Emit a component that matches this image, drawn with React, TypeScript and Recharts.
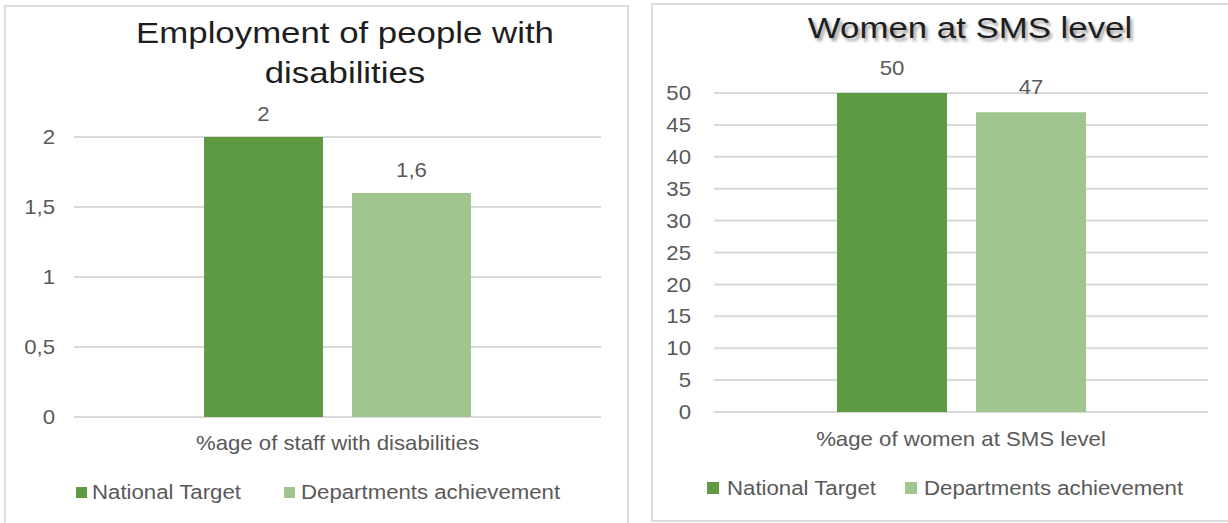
import React from 'react';
import { BarChart, Bar, XAxis, YAxis, CartesianGrid, LabelList, Legend } from 'recharts';

const seriesNames = ['National Target', 'Departments achievement'];
const seriesColors = ['#5E9A42', '#A0C58F'];

const titleLeft = ['Employment of people with', 'disabilities'];
const categoriesLeft = ['%age of staff with disabilities'];
const nationalTargetLeft = [2];
const departmentsLeft = [1.6];
const yTicksLeft = [0, 0.5, 1, 1.5, 2];

const titleRight = ['Women at SMS level'];
const categoriesRight = ['%age of women at SMS level'];
const nationalTargetRight = [50];
const departmentsRight = [47];
const yTicksRight = [0, 5, 10, 15, 20, 25, 30, 35, 40, 45, 50];

const FONT = '"Liberation Sans", Arial, Helvetica, sans-serif';
const SX = 1.11;
const TEXT_GREY = '#595959';

const fmt = (v: any) => String(v).replace('.', ',');

const build = (cats: string[], nat: number[], dep: number[]) =>
  cats.map((c, i) => ({ category: c, national: nat[i], dept: dep[i] }));

const YTick = (props: any) => {
  const { x, y, payload } = props;
  return (
    <text
      transform={`translate(${x},${y}) scale(${SX},1)`}
      textAnchor="end"
      dy="0.355em"
      fill={TEXT_GREY}
      fontSize={20}
      fontFamily={FONT}
    >
      {fmt(payload.value)}
    </text>
  );
};

const XTick = (props: any) => {
  const { x, y, payload } = props;
  return (
    <text
      transform={`translate(${x},${y}) scale(${SX},1)`}
      textAnchor="middle"
      dy="0.71em"
      fill={TEXT_GREY}
      fontSize={20}
      fontFamily={FONT}
    >
      {payload.value}
    </text>
  );
};

const makeValueLabel = (gap: number) => (p: any) => {
  const { x, y, width, value } = p;
  return (
    <text
      transform={`translate(${Number(x) + Number(width) / 2},${Number(y) - gap}) scale(${SX},1)`}
      textAnchor="middle"
      fill={TEXT_GREY}
      fontSize={20}
      fontFamily={FONT}
    >
      {fmt(value)}
    </text>
  );
};

type LegendLayout = { squareX: number[]; textX: number[]; cy: number; sq: number };

const makeLegend = (lay: LegendLayout) => (props: any) => {
  const payload = [...(props.payload || [])].sort(
    (a: any, b: any) => seriesNames.indexOf(a.value) - seriesNames.indexOf(b.value)
  );
  return (
    <div style={{ position: 'relative', width: '100%', height: '100%' }}>
      {payload.map((entry: any, i: number) => (
        <React.Fragment key={i}>
          <div
            style={{
              position: 'absolute',
              left: lay.squareX[i],
              top: lay.cy - lay.sq / 2,
              width: lay.sq,
              height: lay.sq,
              background: entry.color,
            }}
          />
          <div
            style={{
              position: 'absolute',
              left: lay.textX[i],
              top: lay.cy - 10,
              lineHeight: '20px',
              fontSize: 20,
              fontFamily: FONT,
              color: TEXT_GREY,
              whiteSpace: 'nowrap',
              transform: `scaleX(${SX})`,
              transformOrigin: 'left center',
            }}
          >
            {entry.value}
          </div>
        </React.Fragment>
      ))}
    </div>
  );
};

type PanelProps = {
  left: number;
  width: number;
  height: number;
  data: any[];
  ticks: number[];
  domainMax: number;
  margin: { top: number; right: number; bottom: number; left: number };
  barSize: number;
  yTickMargin: number;
  xTickMargin: number;
  labelGap: number;
  legend: LegendLayout;
};

const Panel = (p: PanelProps) => (
  <div style={{ position: 'absolute', left: p.left, top: 0, width: p.width, height: p.height }}>
    <BarChart width={p.width} height={p.height} data={p.data} margin={p.margin} barGap={29}>
      <CartesianGrid vertical={false} stroke="#D9D9D9" strokeWidth={2} />
      <XAxis
        dataKey="category"
        axisLine={false}
        tickLine={false}
        tickSize={0}
        tickMargin={p.xTickMargin}
        height={40}
        interval={0}
        tick={<XTick />}
      />
      <YAxis
        domain={[0, p.domainMax]}
        ticks={p.ticks}
        interval={0}
        axisLine={false}
        tickLine={false}
        tickSize={0}
        tickMargin={p.yTickMargin}
        width={60}
        tick={<YTick />}
      />
      <Legend
        layout="horizontal"
        verticalAlign="middle"
        align="center"
        wrapperStyle={{ left: 0, top: 0, width: p.width, height: p.height, pointerEvents: 'none' }}
        content={makeLegend(p.legend)}
      />
      <Bar dataKey="national" name={seriesNames[0]} fill={seriesColors[0]} barSize={p.barSize} isAnimationActive={false}>
        <LabelList dataKey="national" content={makeValueLabel(p.labelGap)} />
      </Bar>
      <Bar dataKey="dept" name={seriesNames[1]} fill={seriesColors[1]} barSize={p.barSize} isAnimationActive={false}>
        <LabelList dataKey="dept" content={makeValueLabel(p.labelGap)} />
      </Bar>
    </BarChart>
  </div>
);

const titleStyle = (cx: number, top: number, shadow: boolean): React.CSSProperties => ({
  position: 'absolute',
  left: cx - 300,
  top,
  width: 600,
  textAlign: 'center',
  fontFamily: FONT,
  fontSize: 29,
  lineHeight: '40px',
  color: '#1E1E1E',
  transform: 'scaleX(1.2)',
  transformOrigin: 'center',
  whiteSpace: 'nowrap',
  textShadow: shadow ? '2px 3px 3px rgba(0,0,0,0.4)' : 'none',
});

export default function App() {
  const dataLeft = build(categoriesLeft, nationalTargetLeft, departmentsLeft);
  const dataRight = build(categoriesRight, nationalTargetRight, departmentsRight);
  return (
    <div
      style={{
        position: 'absolute',
        left: 0,
        top: 0,
        width: 1228,
        height: 523,
        overflow: 'hidden',
        background: '#FFFFFF',
      }}
    >
      <div
        style={{
          position: 'absolute',
          left: 4,
          top: 5,
          width: 625,
          height: 540,
          border: '2px solid #DCDCDC',
          boxSizing: 'border-box',
        }}
      />
      <div
        style={{
          position: 'absolute',
          left: 651,
          top: 3,
          width: 620,
          height: 519,
          border: '2px solid #DCDCDC',
          boxSizing: 'border-box',
        }}
      />
      <Panel
        left={0}
        width={628}
        height={523}
        data={dataLeft}
        ticks={yTicksLeft}
        domainMax={2}
        margin={{ top: 137, right: 27, bottom: 66, left: 14 }}
        barSize={119}
        yTickMargin={19}
        xTickMargin={19}
        labelGap={16}
        legend={{ squareX: [76, 284], textX: [92, 301], cy: 492, sq: 11 }}
      />
      <Panel
        left={640}
        width={588}
        height={523}
        data={dataRight}
        ticks={yTicksRight}
        domainMax={50}
        margin={{ top: 93, right: 20, bottom: 71, left: 14 }}
        barSize={110}
        yTickMargin={23}
        xTickMargin={20}
        labelGap={18}
        legend={{ squareX: [67, 265], textX: [87, 284], cy: 488, sq: 12 }}
      />
      <div style={titleStyle(345, 13, false)}>
        {titleLeft.map((t, i) => (
          <div key={i}>{t}</div>
        ))}
      </div>
      <div style={titleStyle(970, 8, true)}>
        {titleRight.map((t, i) => (
          <div key={i}>{t}</div>
        ))}
      </div>
    </div>
  );
}
